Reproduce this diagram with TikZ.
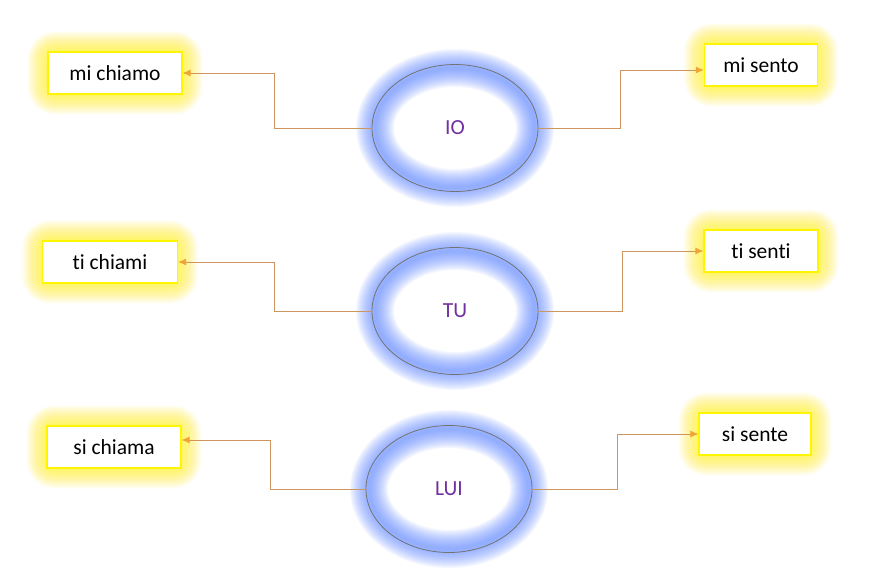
\documentclass[tikz,border=0pt]{standalone}
\usepackage{fontspec}
\setmainfont{Carlito}[Ligatures=NoCommon]
\usetikzlibrary{arrows.meta,positioning,shapes.geometric,backgrounds}

\definecolor{linkc}{RGB}{205,150,95}
\definecolor{tipc}{RGB}{240,165,50}
\definecolor{glowy}{RGB}{255,245,0}
\definecolor{glowb}{RGB}{105,145,255}
\definecolor{pronc}{RGB}{112,48,160}

\begin{document}
\begin{tikzpicture}[x=1pt,y=-1pt,
 every node/.style={font=\fontsize{21.5}{24}\selectfont,align=center},
 verb/.style={draw=glowy,line width=1.2pt,fill=white,minimum height=42pt,inner sep=0pt},
 pron/.style={ellipse,draw=black!55,line width=0.8pt,minimum width=166pt,
   minimum height=127pt,text=pronc,inner sep=0pt},
 link/.style={draw=linkc,line width=0.9pt,-{Latex[length=8pt,width=7pt,color=tipc]}}]
    \useasboundingbox (0,0) rectangle (870,575);
    % pronouns
    \node[pron] (io) at (455,128) {IO};
    \node[pron] (tu) at (455,311) {TU};
    \node[pron] (lui) at (449,489) {LUI};
    % verb forms
    \node[verb,minimum width=134pt] (chiamo) at (115,73) {mi chiamo};
    \node[verb,minimum width=113pt] (sento) at (761,65) {mi sento};
    \node[verb,minimum width=135pt] (chiami) at (110,262) {ti chiami};
    \node[verb,minimum width=114pt] (senti) at (761,251) {ti senti};
    \node[verb,minimum width=134pt] (chiama) at (114,447) {si chiama};
    \node[verb,minimum width=112pt] (sente) at (755,434) {si sente};
    % connectors
    \draw[link] (io.west) -- +(-97,0) |- (chiamo.east);
    \draw[link] (io.east) -- +(82,0) |- ([yshift=-5pt]sento.west);
    \draw[link] (tu.west) -- +(-97,0) |- (chiami.east);
    \draw[link] (tu.east) -- +(84,0) |- (senti.west);
    \draw[link] (lui.west) -- +(-95,0) |- ([yshift=7pt]chiama.east);
    \draw[link] (lui.east) -- +(85,0) |- (sente.west);
    % glow
    \begin{pgfonlayer}{background}
      \fill[white] (0,0) rectangle (870,575);
      \foreach \b in {chiamo,sento,chiami,senti,chiama,sente}
        \foreach \w in {40,38,...,2}
          \draw[glowy,opacity=0.04,line width=\w pt,rounded corners=8pt]
            (\b.south west) rectangle (\b.north east);
      \foreach \e in {io,tu,lui}
        \foreach \w in {38,36,...,2}
          \draw[glowb,opacity=0.06,line width=\w pt]
            (\e.center) ellipse [x radius=80pt,y radius=60pt];
    \end{pgfonlayer}
\end{tikzpicture}
\end{document}
